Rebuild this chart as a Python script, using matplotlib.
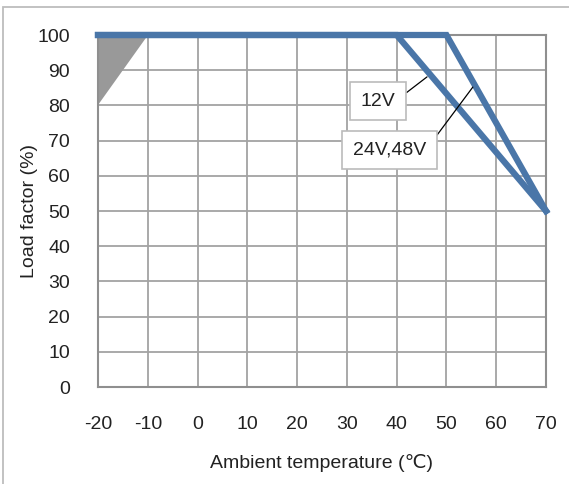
import matplotlib.pyplot as plt
from matplotlib.patches import Rectangle

plt.rcParams['font.family'] = ['Liberation Sans', 'DejaVu Sans']
plt.rcParams['axes.unicode_minus'] = False

# derating curves
temp_12v = [-20, 40, 70]
load_12v = [100, 100, 50]
temp_24v = [-20, 50, 70]
load_24v = [100, 100, 50]
# grey area at low temperature
shade_x = [-20, -20, -10]
shade_y = [80, 100, 100]

x_ticks = [-20, -10, 0, 10, 20, 30, 40, 50, 60, 70]
y_ticks = [0, 10, 20, 30, 40, 50, 60, 70, 80, 90, 100]

line_color = '#4a76a8'
grid_color = '#a3a3a3'
text_color = '#222222'

fig = plt.figure(figsize=(5.69, 4.84), dpi=100)
ax = fig.add_axes([98/569, 1-387/484, 448/569, 352/484])

# frame around the whole picture (only left and top show)
fig.patches.append(Rectangle((3/569, -0.1), 1.2, 1-6.5/484+0.1, transform=fig.transFigure,
                             fill=False, edgecolor='#bdbdbd', linewidth=1.3))

ax.fill(shade_x, shade_y, color='#999999', linewidth=0, zorder=2)
ax.plot(temp_24v, load_24v, color=line_color, linewidth=4.5, solid_joinstyle='miter',
        clip_on=False, zorder=4)
ax.plot(temp_12v, load_12v, color=line_color, linewidth=4.5, solid_joinstyle='miter',
        clip_on=False, zorder=4)

ax.set_xlim(-20, 70)
ax.set_ylim(0, 100)
ax.set_xticks(x_ticks)
ax.set_yticks(y_ticks)
ax.grid(True, color=grid_color, linewidth=1.3, zorder=1)
ax.set_axisbelow(True)
for s in ax.spines.values():
    s.set_color('#8f8f8f')
    s.set_linewidth(1.5)
ax.tick_params(length=0, labelsize=14, labelcolor=text_color)
ax.tick_params(axis='x', pad=21)
ax.tick_params(axis='y', pad=20)

ax.set_xlabel('Ambient temperature (℃)', fontsize=14, color=text_color)
ax.set_ylabel('Load factor (%)', fontsize=14, color=text_color)
ax.xaxis.set_label_coords(0.5, -0.216)
ax.yaxis.set_label_coords(-0.152, 0.5)
ax.xaxis.label.set_va('center')
ax.yaxis.label.set_va('center')

box = dict(boxstyle='square,pad=0.55', facecolor='white', edgecolor='#bbbbbb', linewidth=1.2)
ax.annotate('12V', xy=(46.1, 88.1), xytext=(36.25, 81.2), fontsize=14, color=text_color,
            ha='center', va='center', bbox=box, zorder=5,
            arrowprops=dict(arrowstyle='-', color='black', linewidth=0.9, relpos=(1, 0.5),
                            shrinkA=0, shrinkB=0))
ax.annotate('24V,48V', xy=(55.3, 85.2), xytext=(38.5, 67.3), fontsize=14, color=text_color,
            ha='center', va='center', bbox=box, zorder=5,
            arrowprops=dict(arrowstyle='-', color='black', linewidth=0.9, relpos=(1, 0.5),
                            shrinkA=0, shrinkB=0))

fig.savefig('out.png', dpi=100)
